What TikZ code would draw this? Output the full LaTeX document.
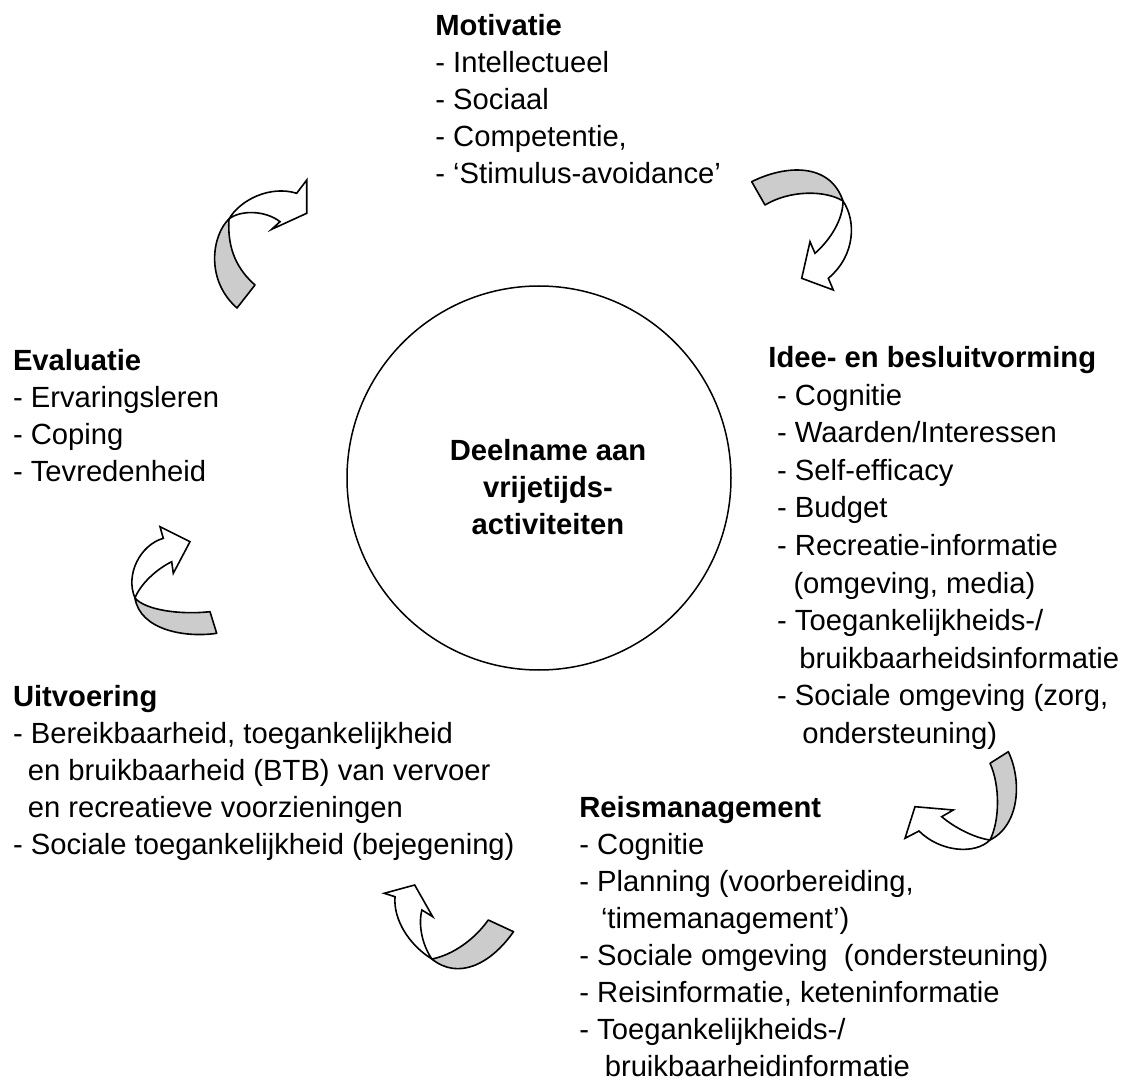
\documentclass[tikz,border=0pt]{standalone}
\usepackage{fontspec}
\setmainfont{Liberation Sans}
\definecolor{lintgrijs}{HTML}{CCCCCC}

\tikzset{
  blok/.style={font=\fontsize{14.6pt}{18.5pt}\selectfont,align=left,anchor=north west,inner sep=0pt},
  kern/.style={font=\fontsize{14.6pt}{18.7pt}\selectfont\bfseries,align=center,inner sep=0pt},
  lintachter/.style={draw,fill=lintgrijs,line width=0.8pt,line join=round},
  lintvoor/.style={draw,fill=white,line width=0.8pt,line join=miter}
}

\begin{document}
\begin{tikzpicture}[x=0.5pt,y=-0.5pt]
  \useasboundingbox (0,0) rectangle (1126,1081);

  % centre
  \node[circle,draw,line width=0.75pt,minimum size=192pt] (kring) at (539,478) {};
  \node[kern] (deelname) at (548,487) {Deelname aan\\vrijetijds-\\activiteiten};

  % Motivatie
  \node[blok] (motivatie) at (435,14) {%
    \textbf{Motivatie}\\
    - Intellectueel\\
    - Sociaal\\
    - Competentie,\\
    - ‘Stimulus-avoidance’};

  % Idee- en besluitvorming
  \node[blok,font=\fontsize{14.6pt}{18.8pt}\selectfont] (idee) at (768,346) {%
    \textbf{Idee- en besluitvorming}\\
    \hspace*{0.3em}- Cognitie\\
    \hspace*{0.3em}- Waarden/Interessen\\
    \hspace*{0.3em}- Self-efficacy\\
    \hspace*{0.3em}- Budget\\
    \hspace*{0.3em}- Recreatie-informatie\\
    \hspace*{0.86em}(omgeving, media)\\
    \hspace*{0.3em}- Toegankelijkheids-/\\
    \hspace*{1.06em}bruikbaarheidsinformatie\\
    \hspace*{0.3em}- Sociale omgeving (zorg,\\
    \hspace*{1.16em}ondersteuning)};

  % Reismanagement
  \node[blok] (reis) at (579,796) {%
    \textbf{Reismanagement}\\
    - Cognitie\\
    - Planning (voorbereiding,\\
    \hspace*{0.74em}‘timemanagement’)\\
    - Sociale omgeving~ (ondersteuning)\\
    - Reisinformatie, keteninformatie\\
    - Toegankelijkheids-/\\
    \hspace*{0.87em}bruikbaarheidinformatie};

  % Uitvoering
  \node[blok] (uitvoering) at (12.6,685) {%
    \textbf{Uitvoering}\\
    - Bereikbaarheid, toegankelijkheid\\
    \hspace*{0.51em}en bruikbaarheid (BTB) van vervoer\\
    \hspace*{0.51em}en recreatieve voorzieningen\\
    - Sociale toegankelijkheid (bejegening)};

  % Evaluatie
  \node[blok] (evaluatie) at (12.6,349) {%
    \textbf{Evaluatie}\\
    - Ervaringsleren\\
    - Coping\\
    - Tevredenheid};

  % Pijl evaluatie -> motivatie
  \draw[lintachter] (229,219) .. controls (212,235) and (205,280) .. (237,308)
    -- (255,285) .. controls (238,270) and (227,250) .. (229,219) -- cycle;
  \draw[lintvoor] (229,219) .. controls (240,200) and (270,185) .. (296.7,193.3)
    -- (306.7,180) -- (306.7,213.3) -- (271.7,229.3) -- (280,221.7)
    .. controls (265,210) and (240,210) .. (229,219) -- cycle;

  % Pijl motivatie -> idee
  \draw[lintachter] (751.7,181.7) .. controls (785,165) and (830,162) .. (843,201)
    .. controls (825,190) and (790,190) .. (765,205) -- cycle;
  \draw[lintvoor] (843,201) .. controls (856,220) and (856,255) .. (828.3,278.3)
    -- (833.3,290) -- (801.7,278.3) -- (810,241.7) -- (815,253.3)
    .. controls (830,240) and (843,220) .. (843,201) -- cycle;

  % Pijl idee -> reismanagement
  \draw[lintachter] (990,763.3) -- (1008.3,751.7) .. controls (1022,780) and (1020,825) .. (990,840)
    .. controls (1000,820) and (1000,785) .. (990,763.3) -- cycle;
  \draw[lintvoor] (990,840) .. controls (975,855) and (940,852) .. (919,831)
    -- (905,838.3) -- (915,806.7) -- (953.3,810) -- (941.7,816.7)
    .. controls (955,828) and (975,838) .. (990,840) -- cycle;

  % Pijl reismanagement -> uitvoering
  \draw[lintachter] (488.3,920) -- (513.5,931.7) .. controls (490.1,965) and (457.8,980) .. (431.9,959)
    .. controls (452.4,955) and (474,940) .. (488.3,920) -- cycle;
  \draw[lintvoor] (431.9,959) .. controls (409.3,945) and (393.2,920) .. (395,896.7)
    -- (384.2,893.3) -- (414.7,885) -- (432.7,916.7) -- (421.9,910)
    .. controls (418,925) and (422.3,945) .. (431.9,959) -- cycle;

  % Pijl uitvoering -> evaluatie
  \draw[lintachter] (210,611.7) -- (216.7,633.3) .. controls (185,638) and (140,630) .. (135,598)
    .. controls (145,610) and (180,615) .. (210,611.7) -- cycle;
  \draw[lintvoor] (135,598) .. controls (125,575) and (140,545) .. (163.3,538.3)
    -- (160,526.7) -- (190,541.7) -- (173.3,573.3) -- (171.7,561.7)
    .. controls (155,570) and (140,585) .. (135,598) -- cycle;
\end{tikzpicture}
\end{document}
